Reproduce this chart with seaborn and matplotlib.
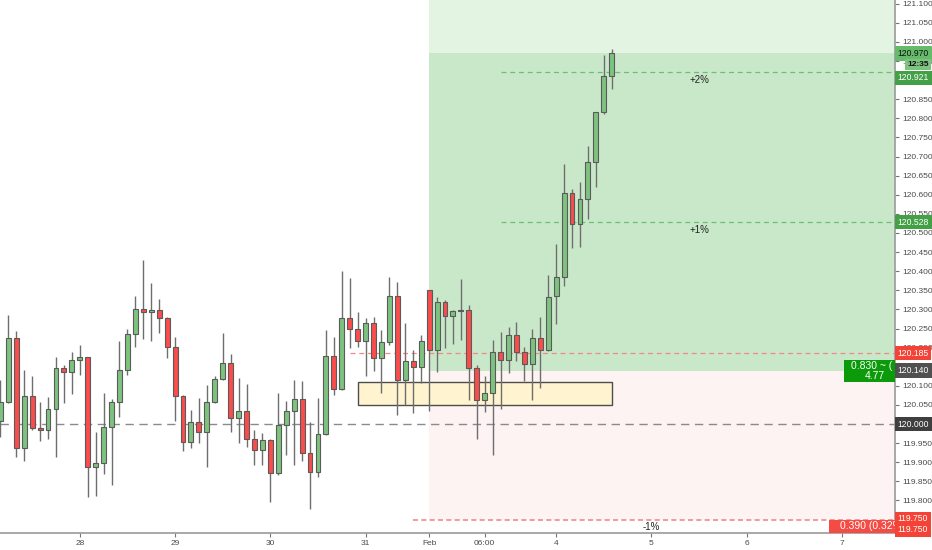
import matplotlib
matplotlib.use("Agg")
import matplotlib.pyplot as plt
from matplotlib.patches import Rectangle
import seaborn as sns
import numpy as np
import pandas as pd

# 2h candles
opens = [120.009, 120.058, 120.226, 119.936, 120.073, 119.990, 119.984, 120.038, 120.146, 120.135,
         120.168, 120.175, 119.888, 119.899, 119.993, 120.058, 120.141, 120.236, 120.301, 120.292,
         120.298, 120.278, 120.202, 120.074, 119.952, 120.006, 119.980, 120.058, 120.118, 120.161,
         120.017, 120.035, 119.962, 119.932, 119.958, 119.873, 119.997, 120.034, 120.065, 119.923,
         119.875, 119.973, 120.178, 120.091, 120.277, 120.248, 120.217, 120.264, 120.174, 120.214,
         120.335, 120.115, 120.165, 120.150, 120.351, 120.194, 120.320, 120.284, 120.296, 120.298,
         120.146, 120.063, 120.080, 120.189, 120.168, 120.233, 120.188, 120.156, 120.224, 120.194,
         120.335, 120.386, 120.606, 120.523, 120.588, 120.687, 120.816, 120.911]
highs = [120.115, 120.285, 120.243, 120.141, 120.126, 120.057, 120.072, 120.175, 120.154, 120.188,
         120.207, 120.176, 119.980, 120.080, 120.065, 120.217, 120.248, 120.335, 120.429, 120.368,
         120.326, 120.280, 120.227, 120.075, 120.037, 120.067, 120.102, 120.125, 120.237, 120.182,
         120.120, 120.106, 119.984, 119.977, 119.960, 120.082, 120.061, 120.115, 120.113, 120.004,
         120.067, 120.246, 120.227, 120.401, 120.383, 120.294, 120.277, 120.281, 120.246, 120.386,
         120.373, 120.264, 120.194, 120.233, 120.352, 120.333, 120.325, 120.298, 120.379, 120.312,
         120.154, 120.126, 120.220, 120.242, 120.253, 120.266, 120.201, 120.248, 120.279, 120.390,
         120.470, 120.680, 120.614, 120.634, 120.729, 120.817, 120.966, 120.981]
lows = [119.967, 120.055, 119.913, 119.904, 119.984, 119.956, 119.961, 119.913, 120.054, 120.079,
        120.128, 119.808, 119.812, 119.870, 119.840, 120.019, 120.128, 120.202, 120.222, 120.216,
        120.237, 120.172, 120.009, 119.930, 119.936, 119.949, 119.887, 120.055, 120.116, 119.978,
        119.951, 119.941, 119.893, 119.893, 119.795, 119.866, 119.919, 119.893, 119.904, 119.777,
        119.862, 119.970, 120.076, 120.089, 120.198, 120.202, 120.126, 120.140, 120.082, 120.207,
        120.024, 120.050, 120.028, 120.108, 120.035, 120.137, 120.198, 120.209, 120.220, 120.063,
        119.962, 120.032, 119.919, 120.038, 120.134, 120.166, 120.113, 120.063, 120.093, 120.190,
        120.261, 120.360, 120.462, 120.464, 120.537, 120.621, 120.811, 120.877]
closes = [120.058, 120.226, 119.936, 120.073, 119.990, 119.984, 120.038, 120.146, 120.135, 120.168,
          120.175, 119.888, 119.899, 119.993, 120.058, 120.141, 120.236, 120.301, 120.292, 120.298,
          120.278, 120.202, 120.074, 119.952, 120.006, 119.980, 120.058, 120.118, 120.161, 120.017,
          120.035, 119.962, 119.932, 119.958, 119.873, 119.997, 120.034, 120.065, 119.923, 119.875,
          119.973, 120.178, 120.091, 120.277, 120.248, 120.217, 120.264, 120.174, 120.214, 120.335,
          120.115, 120.165, 120.150, 120.217, 120.194, 120.320, 120.284, 120.296, 120.297, 120.146,
          120.063, 120.080, 120.189, 120.168, 120.233, 120.188, 120.156, 120.224, 120.194, 120.333,
          120.386, 120.606, 120.523, 120.588, 120.687, 120.816, 120.911, 120.970]

time_tick_pos = [10, 22, 34, 46, 54, 61, 70, 82, 94, 106]
time_tick_labels = ["28", "29", "30", "31", "Feb", "06:00", "4", "5", "6", "7"]

# long position tool
entry_price = 120.140
stop_price = 119.750
target_price = 121.20
last_price = 120.970
level_2pct = 120.921
level_1pct = 120.528
level_m1pct = 119.750
level_red = 120.185
round_level = 120.000
zone_low, zone_high = 120.050, 120.111

# price-scale ticks hidden under the coloured tags
covered_ticks = [119.75, 120.0, 120.15, 120.9]

df = pd.DataFrame({"open": opens, "high": highs, "low": lows, "close": closes})
df["idx"] = np.arange(len(df))
df["up"] = df["close"] >= df["open"]

sns.set_theme(style="white")
plt.rcParams["font.family"] = ["Liberation Sans", "DejaVu Sans"]

fig = plt.figure(figsize=(9.32, 5.5), dpi=100)
ax = fig.add_axes([0, 17 / 550, 895 / 932, 533 / 550])
x0, x1 = -0.05, 112.68
ax.set_xlim(x0, x1)
ax.set_ylim(119.7147, 121.1099)

up_col, down_col = "#7dc37e", "#fb4c4c"

# position tool shading
pos_start = 54
ax.add_patch(Rectangle((pos_start, last_price), x1 - pos_start, target_price - last_price,
                       fc="#e3f4e3", ec="none", zorder=0))
ax.add_patch(Rectangle((pos_start, entry_price), x1 - pos_start, last_price - entry_price,
                       fc="#c9e8ca", ec="none", zorder=0))
ax.add_patch(Rectangle((pos_start, stop_price), x1 - pos_start, entry_price - stop_price,
                       fc="#fdf3f2", ec="none", zorder=0))

# support zone
ax.add_patch(Rectangle((45, zone_low), 32, zone_high - zone_low,
                       fc="#fff4cf", ec="#4d4d4d", lw=1.0, zorder=1))

# reference lines
ax.hlines(round_level, x0, x1, colors="#8a8a8a", linestyles=(0, (6, 4)), lw=1.0, zorder=1)
ax.hlines(level_red, 44, x1, colors="#f08a8a", linestyles=(0, (4, 3)), lw=0.9, zorder=1)
ax.hlines(level_m1pct, 52, x1, colors="#f08a8a", linestyles=(0, (3, 2)), lw=1.2, zorder=1)
ax.hlines([level_2pct, level_1pct], 63, x1, colors="#6cc070", linestyles=(0, (4, 3)), lw=0.9, zorder=1)

# candles
ax.vlines(df["idx"], df["low"], df["high"], colors="#6e6e6e", lw=1.0, zorder=2)
body_lo = df[["open", "close"]].min(axis=1)
body_h = (df["close"] - df["open"]).abs().clip(lower=0.002)
ax.bar(df["idx"], body_h, bottom=body_lo, width=0.62,
       color=np.where(df["up"], up_col, down_col), edgecolor="#5a5a5a", linewidth=0.8, zorder=3)

# percentage labels
for txt, lvl, xc in [("+2%", level_2pct, 88), ("+1%", level_1pct, 88), ("-1%", level_m1pct, 82)]:
    ax.annotate(txt, xy=(xc, lvl), xytext=(0, -2), textcoords="offset points",
                ha="center", va="top", fontsize=7, color="#222222", zorder=4)

# position info boxes (cut off by the price scale)
ax.add_patch(Rectangle((106.2, 120.109), 7, 0.058, fc="#0a9a0a", ec="none", zorder=5))
ax.text(107.2, 120.151, "0.830 ~ (", ha="left", va="center", fontsize=7.5,
        color="white", zorder=6, clip_on=True)
ax.text(110.1, 120.126, "4.77", ha="center", va="center", fontsize=7.5,
        color="white", zorder=6, clip_on=True)
ax.add_patch(Rectangle((104.4, 119.7147), 9, 0.034, fc="#f44b45", ec="none", zorder=5))
ax.text(105.7, 119.733, "0.390 (0.32%", ha="left", va="center", fontsize=7.5,
        color="white", zorder=6, clip_on=True)

# price scale
ax.yaxis.tick_right()
yticks = np.round(np.arange(119.75, 121.101, 0.05), 3)
ax.set_yticks(yticks)
ax.set_yticklabels(["" if np.isclose(v, covered_ticks).any() else f"{v:.3f}" for v in yticks])
ax.tick_params(axis="y", which="major", length=3, width=0.8, color="#777777",
               labelsize=6, labelcolor="#4a4a4a", pad=2, right=True, left=False)
ax.set_xticks(time_tick_pos)
ax.set_xticklabels(time_tick_labels)
ax.tick_params(axis="x", length=3, width=0.8, color="#777777", labelsize=6,
               labelcolor="#4a4a4a", pad=2, bottom=True)
for s in ["left", "top"]:
    ax.spines[s].set_visible(False)
for s in ["right", "bottom"]:
    ax.spines[s].set_color("#9a9a9a")
    ax.spines[s].set_linewidth(1.2)
ax.grid(False)

yt = ax.get_yaxis_transform()
price_tags = [
    (last_price, "120.970", "#66bb6a", "#111111"),
    (120.906, "120.921", "#43a047", "white"),
    (level_1pct, "120.528", "#43a047", "white"),
    (level_red, "120.185", "#f44336", "white"),
    (entry_price, "120.140", "#505050", "white"),
    (round_level, "120.000", "#3f3f3f", "white"),
    (119.752, "119.750", "#f44336", "white"),
    (119.723, "119.750", "#f44336", "white"),
]
for lvl, lab, fc, tc in price_tags:
    ax.text(1.003, lvl, lab, transform=yt, ha="left", va="center", fontsize=6.2, color=tc,
            clip_on=False, zorder=7,
            bbox=dict(boxstyle="square,pad=0.3", fc=fc, ec="none"))
ax.text(1.014, 120.940, "12:35", transform=yt, ha="left", va="center", fontsize=6,
        color="#111111", fontweight="bold", clip_on=False, zorder=7,
        bbox=dict(boxstyle="square,pad=0.25", fc="#7cc47f", ec="none"))

fig.savefig("out.png", dpi=100)
